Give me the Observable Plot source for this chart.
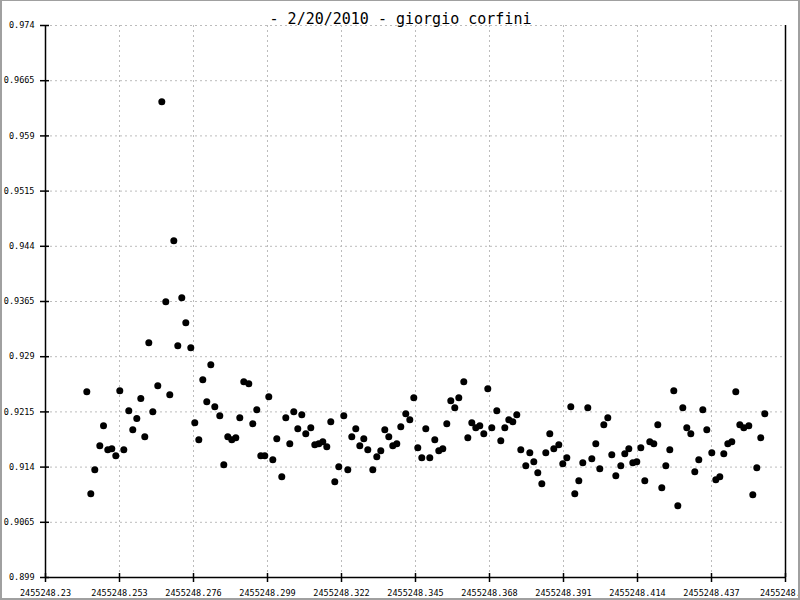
<!DOCTYPE html>
<html><head><meta charset="utf-8">
<script src="https://cdn.jsdelivr.net/npm/d3@7"></script>
<script src="https://cdn.jsdelivr.net/npm/@observablehq/plot@0.6"></script>
<style>
body{margin:0;background:#fff}
#wrap{position:relative;width:800px;height:600px;overflow:hidden;background:#fff}
#border{position:absolute;left:0;top:0;width:800px;height:600px;box-sizing:border-box;border:2px solid #a0a0a0;border-top-width:1px;pointer-events:none}
</style></head><body><div id="wrap"><div id="border"></div></div>
<script>
const title = "- 2/20/2010 - giorgio corfini";

const jd = [
2455248.24284,2455248.24408,2455248.24532,2455248.24688,2455248.24803,2455248.24936,2455248.25061,2455248.25185,2455248.25309,2455248.25434,
2455248.25589,2455248.25713,2455248.25838,2455248.25962,2455248.26086,2455248.26211,2455248.26335,2455248.26490,2455248.26615,2455248.26739,
2455248.26863,2455248.26988,2455248.27112,2455248.27236,2455248.27361,2455248.27516,2455248.27640,2455248.27765,2455248.27889,2455248.28013,
2455248.28138,2455248.28262,2455248.28417,2455248.28542,2455248.28666,2455248.28790,2455248.28915,2455248.29039,2455248.29163,2455248.29319,
2455248.29443,2455248.29567,2455248.29692,2455248.29816,2455248.29940,2455248.30065,2455248.30189,2455248.30344,2455248.30469,2455248.30593,
2455248.30717,2455248.30842,2455248.30966,2455248.31090,2455248.31246,2455248.31370,2455248.31494,2455248.31619,2455248.31743,2455248.31867,
2455248.31992,2455248.32116,2455248.32271,2455248.32396,2455248.32520,2455248.32644,2455248.32769,2455248.32893,2455248.33017,2455248.33173,
2455248.33297,2455248.33421,2455248.33546,2455248.33670,2455248.33794,2455248.33919,2455248.34043,2455248.34198,2455248.34323,2455248.34447,
2455248.34571,2455248.34696,2455248.34820,2455248.34944,2455248.35100,2455248.35224,2455248.35348,2455248.35473,2455248.35597,2455248.35721,
2455248.35846,2455248.36001,2455248.36126,2455248.36250,2455248.36374,2455248.36498,2455248.36623,2455248.36747,2455248.36871,2455248.37027,
2455248.37151,2455248.37276,2455248.37400,2455248.37524,2455248.37648,2455248.37773,2455248.37928,2455248.38053,2455248.38177,2455248.38301,
2455248.38426,2455248.38550,2455248.38674,2455248.38799,2455248.38954,2455248.39078,2455248.39203,2455248.39327,2455248.39451,2455248.39576,
2455248.39700,2455248.39855,2455248.39980,2455248.40104,2455248.40228,2455248.40353,2455248.40477,2455248.40601,2455248.40726,2455248.40881,
2455248.41005,2455248.41130,2455248.41254,2455248.41378,2455248.41503,2455248.41627,2455248.41782,2455248.41907,2455248.42031,2455248.42155,
2455248.42280,2455248.42404,2455248.42528,2455248.42653,2455248.42808,2455248.42932,2455248.43057,2455248.43181,2455248.43305,2455248.43430,
2455248.43554,2455248.43709,2455248.43834,2455248.43958,2455248.44082,2455248.44207,2455248.44331,2455248.44455,2455248.44580,2455248.44704,
2455248.44859,2455248.44984,2455248.45108,2455248.45232,2455248.45357
];

const flux = [
0.92423,0.91037,0.91363,0.91689,0.91961,0.91635,0.91649,0.91554,0.92437,0.91635,
0.92165,0.91907,0.92060,0.92332,0.91812,0.93089,0.92151,0.92505,0.96363,0.93646,
0.92382,0.94475,0.93048,0.93700,0.93361,0.93021,0.92002,0.91771,0.92586,0.92287,
0.92790,0.92219,0.92097,0.91431,0.91812,0.91771,0.91798,0.92070,0.92559,0.92532,
0.91988,0.92178,0.91554,0.91554,0.92355,0.91499,0.91785,0.91268,0.92070,0.91717,
0.92151,0.91920,0.92111,0.91852,0.91934,0.91703,0.91717,0.91744,0.91676,0.92015,
0.91200,0.91404,0.92097,0.91363,0.91812,0.91920,0.91689,0.91785,0.91635,0.91363,
0.91540,0.91621,0.91907,0.91812,0.91689,0.91717,0.91948,0.92124,0.92043,0.92342,
0.91662,0.91526,0.91920,0.91526,0.91771,0.91621,0.91649,0.91988,0.92301,0.92206,
0.92342,0.92559,0.91798,0.92002,0.91934,0.91961,0.91852,0.92464,0.91934,0.92165,
0.91757,0.91934,0.92043,0.92015,0.92111,0.91635,0.91418,0.91594,0.91472,0.91323,
0.91173,0.91594,0.91852,0.91649,0.91703,0.91445,0.91526,0.92219,0.91037,0.91214,
0.91458,0.92206,0.91513,0.91717,0.91377,0.91975,0.92070,0.91567,0.91282,0.91418,
0.91581,0.91649,0.91458,0.91472,0.91662,0.91214,0.91744,0.91717,0.91975,0.91119,
0.91418,0.91635,0.92437,0.90874,0.92206,0.91934,0.91852,0.91336,0.91499,0.92178,
0.91907,0.91594,0.91227,0.91268,0.91581,0.91717,0.91744,0.92423,0.91975,0.91934,
0.91961,0.91024,0.91390,0.91798,0.92124
];

const xTicks = [2455248.23,2455248.253,2455248.276,2455248.299,2455248.322,2455248.345,2455248.368,2455248.391,2455248.414,2455248.437,2455248.46];
const xTickLabels = ["2455248.23","2455248.253","2455248.276","2455248.299","2455248.322","2455248.345","2455248.368","2455248.391","2455248.414","2455248.437","2455248.46"];
const yTicks = [0.899,0.9065,0.914,0.9215,0.929,0.9365,0.944,0.9515,0.959,0.9665,0.974];
const yTickLabels = ["0.899","0.9065","0.914","0.9215","0.929","0.9365","0.944","0.9515","0.959","0.9665","0.974"];

const data = jd.map((t, i) => ({t, v: flux[i]}));
const mono = "'DejaVu Sans Mono', 'Liberation Mono', monospace";
const lab = (ticks, labels) => d => { const i = ticks.findIndex(t => Math.abs(t - d) < 1e-7); return i < 0 ? "" : labels[i]; };
const xMin = xTicks[0], xMax = xTicks[xTicks.length - 1];
const yMin = yTicks[0], yMax = yTicks[yTicks.length - 1];

const chart = Plot.plot({
  width: 800, height: 600,
  marginLeft: 45, marginRight: 15, marginTop: 25, marginBottom: 23,
  style: {fontFamily: mono, fontSize: "8.5px", background: "#fff", color: "#000"},
  x: {domain: [xMin, xMax], label: null},
  y: {domain: [yMin, yMax], label: null},
  marks: [
    Plot.gridX(xTicks.slice(1, -1), {stroke: "#bcbcbc", strokeOpacity: 1, strokeDasharray: "2,3"}),
    Plot.gridY(yTicks.slice(1), {stroke: "#bcbcbc", strokeOpacity: 1, strokeDasharray: "2,3"}),
    Plot.ruleY([yMin], {stroke: "#000", strokeWidth: 1.5}),
    Plot.ruleX([xMin, xMax], {stroke: "#000", strokeWidth: 1.5}),
    Plot.axisX({ticks: xTicks, tickFormat: lab(xTicks, xTickLabels), label: null, tickSize: 9, dy: -4, tickPadding: 7, fontSize: 8.5, stroke: "#000", strokeWidth: 1.5, fill: "#000", fontFamily: mono}),
    Plot.axisY({ticks: yTicks, tickFormat: lab(yTicks, yTickLabels), label: null, tickSize: 9, dx: 4, tickPadding: 6, fontSize: 8.5, stroke: "#000", strokeWidth: 1.5, fill: "#000", fontFamily: mono}),
    Plot.dot(data, {x: "t", y: "v", r: 3.5, fill: "#000", stroke: "none"}),
    Plot.text([title], {frameAnchor: "top", dx: -15, dy: -12, fontSize: 15, fontFamily: mono, fill: "#000"})
  ]
});
document.getElementById("wrap").prepend(chart);
</script></body></html>
